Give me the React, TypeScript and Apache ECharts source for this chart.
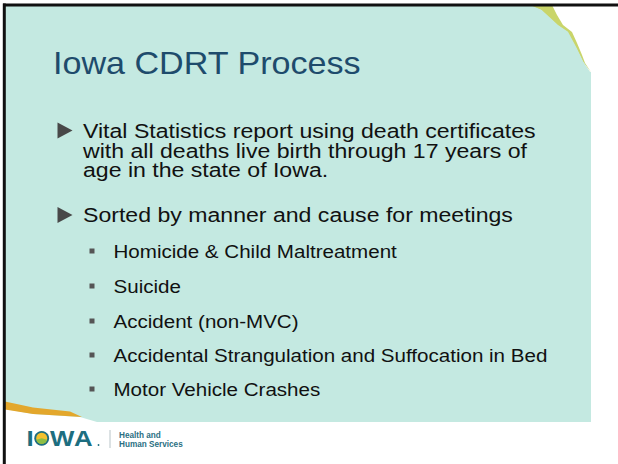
import React, { useEffect, useRef } from 'react';
import * as echarts from 'echarts';

const titleText = 'Iowa CDRT Process';
const firstBulletLines = [
  'Vital Statistics report using death certificates',
  'with all deaths live birth through 17 years of',
  'age in the state of Iowa.',
];
const secondBulletLines = ['Sorted by manner and cause for meetings'];
const subBullets = [
  'Homicide & Child Maltreatment',
  'Suicide',
  'Accident (non-MVC)',
  'Accidental Strangulation and Suffocation in Bed',
  'Motor Vehicle Crashes',
];
const logoLetters = ['I', 'W', 'A'];
const logoSubtitle = ['Health and', 'Human Services'];

const FONT = "'Liberation Sans', Arial, Helvetica, sans-serif";
const SX = 1.1;

function txt(text: string, x: number, y: number, size: number, fill: string, extra: any = {}, el: any = {}) {
  return {
    type: 'text',
    x,
    y,
    ...el,
    style: {
      text,
      fontSize: size,
      fontFamily: FONT,
      fill,
      align: 'left',
      verticalAlign: 'middle',
      textAlign: 'left',
      textVerticalAlign: 'middle',
      ...extra,
    },
    silent: true,
  };
}

export default function App() {
  const ref = useRef<HTMLDivElement>(null);
  useEffect(() => {
    if (!ref.current) return;
    const chart = echarts.init(ref.current, null, { renderer: 'svg' });
    const g: any[] = [];

    // background
    g.push({ type: 'rect', shape: { x: 0, y: 0, width: 618, height: 464 }, style: { fill: '#ffffff' }, silent: true });

    // yellow-green accent (top right)
    g.push({
      type: 'polygon',
      shape: {
        points: [
          [528, 5], [552, 5], [557, 15], [563, 25], [572, 32], [577, 43], [582, 55], [585, 63], [591, 72],
          [583, 62], [576, 48], [567, 32], [557, 25], [541, 10],
        ],
      },
      style: { fill: '#c9d56a' },
      silent: true,
    });

    // teal body
    g.push({
      type: 'polygon',
      shape: {
        points: [
          [5, 5], [530, 5], [541.7, 10], [558, 25], [568, 31.7], [576.7, 48], [583.3, 61.7], [590, 71.7],
          [591, 72], [591, 422], [97, 422], [80, 417], [33, 414], [5, 409],
        ],
      },
      style: { fill: '#c4e9e1' },
      silent: true,
    });

    // orange accent (bottom left)
    g.push({
      type: 'polygon',
      shape: {
        points: [
          [5, 401.5], [33, 407.5], [70, 411.5], [82, 417], [33, 414], [5, 409.5],
        ],
      },
      style: { fill: '#e3a72c' },
      silent: true,
    });

    // frame lines
    g.push({ type: 'line', shape: { x1: 3, y1: 5, x2: 618, y2: 5 }, style: { stroke: '#111', lineWidth: 3 }, silent: true });
    g.push({ type: 'line', shape: { x1: 4.3, y1: 3.5, x2: 4.3, y2: 464 }, style: { stroke: '#111', lineWidth: 3 }, silent: true });

    // title
    g.push(txt(titleText, 53, 64, 31, '#1e4b6c', {}, { scaleX: SX }));

    // main bullets
    const tri = (cy: number) => ({
      type: 'polygon',
      shape: { points: [[57.5, cy - 8], [57.5, cy + 8], [72.5, cy]] },
      style: { fill: '#484848' },
      silent: true,
    });
    g.push(tri(130.5));
    g.push(txt(firstBulletLines.join('\n'), 83, 150.5, 21, '#111111', { lineHeight: 19.5 }, { scaleX: SX }));
    g.push(tri(215));
    secondBulletLines.forEach((l) => g.push(txt(l, 83, 215, 21, '#111111', {}, { scaleX: SX })));

    // sub bullets
    const subY = [251, 286, 321, 355, 389];
    subBullets.forEach((s, i) => {
      g.push({ type: 'rect', shape: { x: 89.5, y: subY[i] - 2.5, width: 5, height: 5 }, style: { fill: '#555555' }, silent: true });
      g.push(txt(s, 113.5, subY[i], 18.7, '#111111', {}, { scaleX: SX }));
    });

    // logo
    const logoColor = '#1d6e80';
    const letterX = [26.5, 50, 74];
    logoLetters.forEach((l, i) =>
      g.push(txt(l, letterX[i], 438.5, 21.5, logoColor, { fontWeight: 'bold' }, { scaleX: 1.2 }))
    );
    g.push({ type: 'circle', shape: { cx: 41.7, cy: 438.3, r: 7.4 }, style: { fill: logoColor }, silent: true });
    g.push({ type: 'circle', shape: { cx: 41.7, cy: 438.3, r: 5.5 }, style: { fill: '#f3c12f' }, silent: true });
    g.push({ type: 'sector', shape: { cx: 41.7, cy: 438.3, r: 5.5, r0: 0, startAngle: 0.25, endAngle: Math.PI - 0.25 }, style: { fill: '#8cbf45' }, silent: true });
    g.push({ type: 'circle', shape: { cx: 98.5, cy: 445, r: 0.9 }, style: { fill: logoColor }, silent: true });
    g.push({ type: 'line', shape: { x1: 110, y1: 430, x2: 110, y2: 448 }, style: { stroke: '#b8c4c8', lineWidth: 1 }, silent: true });
    g.push(txt(logoSubtitle[0], 119, 435, 8.2, '#2b6f82', { fontWeight: 'bold' }));
    g.push(txt(logoSubtitle[1], 119, 444.3, 8.2, '#2b6f82', { fontWeight: 'bold' }));

    chart.setOption({ animation: false, graphic: { elements: g } });
    return () => chart.dispose();
  }, []);
  return <div ref={ref} style={{ position: 'absolute', left: 0, top: 0, width: 618, height: 464 }} />;
}
